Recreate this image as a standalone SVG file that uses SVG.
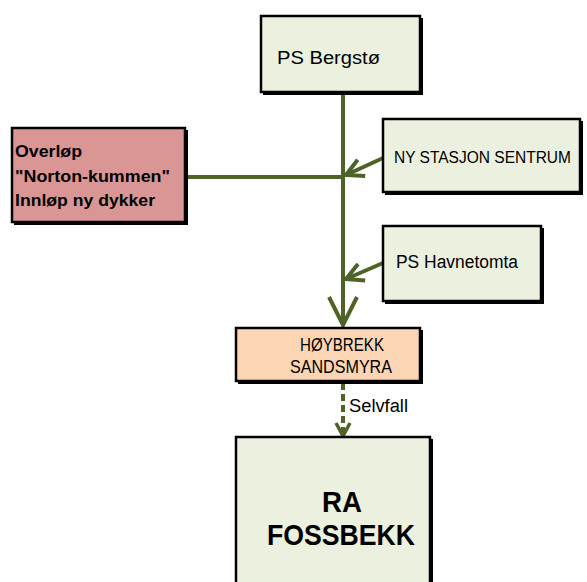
<svg xmlns="http://www.w3.org/2000/svg" width="587" height="582" viewBox="0 0 587 582">
<defs>
<style>
.box{stroke:#000;stroke-width:2.5}
.sh{fill:#000}
.g{fill:#ebf1de}
.r{fill:#d99694}
.o{fill:#fcd5b5}
.t{font-family:"Liberation Sans",Arial,sans-serif;font-size:18px;fill:#000}
.ts{font-family:"Liberation Sans",Arial,sans-serif;font-size:16px;fill:#000}
.tb{font-family:"Liberation Sans",Arial,sans-serif;font-size:16px;font-weight:bold;fill:#000}
.big{font-family:"Liberation Sans",Arial,sans-serif;font-size:30px;font-weight:bold;fill:#000}
.c{fill:none;stroke:#4f6228;stroke-width:4}
</style>
<marker id="big" markerUnits="userSpaceOnUse" viewBox="0 0 34 34" markerWidth="34" markerHeight="34" refX="30" refY="17" orient="auto">
<polyline points="2,3 30,17 2,31" fill="none" stroke="#4f6228" stroke-width="4"/>
</marker>
<marker id="sm" markerUnits="userSpaceOnUse" viewBox="0 0 24 24" markerWidth="24" markerHeight="24" refX="20" refY="12" orient="auto">
<polyline points="3,3 20,12 3,21" fill="none" stroke="#4f6228" stroke-width="4"/>
</marker>
<marker id="dsh" markerUnits="userSpaceOnUse" viewBox="0 0 20 20" markerWidth="20" markerHeight="20" refX="16" refY="10" orient="auto">
<polyline points="3,3 16,10 3,17" fill="none" stroke="#4f6228" stroke-width="3.5"/>
</marker>
</defs>
<rect width="587" height="582" fill="#fff"/>
<g id="connectors">
<line class="c" x1="186" y1="177" x2="343" y2="177"/>
<line class="c" x1="343" y1="94" x2="343" y2="325" marker-end="url(#big)"/>
<line class="c" x1="383" y1="158" x2="346" y2="175" marker-end="url(#sm)"/>
<line class="c" x1="383" y1="263" x2="346" y2="279" marker-end="url(#sm)"/>
<line class="c" x1="343" y1="383" x2="343" y2="436" stroke-dasharray="7,4" marker-end="url(#dsh)"/>
<text class="t" x="349" y="412" textLength="59" lengthAdjust="spacingAndGlyphs">Selvfall</text>
</g>
<g id="ps-bergsto">
<rect class="sh" x="263" y="18" width="160" height="77"/>
<rect class="box g" x="261" y="16" width="159" height="76"/>
<text class="t" x="277" y="64" textLength="103" lengthAdjust="spacingAndGlyphs">PS Bergstø</text>
</g>
<g id="overlop">
<rect class="sh" x="14" y="130" width="174" height="95"/>
<rect class="box r" x="12" y="128" width="173" height="94"/>
<text class="tb" x="15" y="157" textLength="67" lengthAdjust="spacingAndGlyphs">Overløp</text>
<text class="tb" x="15" y="182" textLength="155" lengthAdjust="spacingAndGlyphs">"Norton-kummen"</text>
<text class="tb" x="15" y="206" textLength="140" lengthAdjust="spacingAndGlyphs">Innløp ny dykker</text>
</g>
<g id="ny-stasjon">
<rect class="sh" x="385" y="121" width="198" height="74"/>
<rect class="box g" x="383" y="119" width="197" height="73"/>
<text class="ts" x="394" y="163" textLength="177" lengthAdjust="spacingAndGlyphs">NY STASJON SENTRUM</text>
</g>
<g id="ps-havnetomta">
<rect class="sh" x="385" y="228" width="159" height="76"/>
<rect class="box g" x="383" y="226" width="158" height="75"/>
<text class="t" x="396" y="268" textLength="122" lengthAdjust="spacingAndGlyphs">PS Havnetomta</text>
</g>
<g id="hoybrekk">
<rect class="sh" x="238" y="330" width="185" height="54"/>
<rect class="box o" x="236" y="328" width="184" height="53"/>
<text class="t" x="300" y="351" textLength="84" lengthAdjust="spacingAndGlyphs">HØYBREKK</text>
<text class="t" x="290" y="373" textLength="102" lengthAdjust="spacingAndGlyphs">SANDSMYRA</text>
</g>
<g id="ra-fossbekk">
<rect class="sh" x="238" y="439" width="195" height="150"/>
<rect class="box g" x="236" y="437" width="194" height="150"/>
<text class="big" x="322" y="512" textLength="40" lengthAdjust="spacingAndGlyphs">RA</text>
<text class="big" x="267" y="545" textLength="148" lengthAdjust="spacingAndGlyphs">FOSSBEKK</text>
</g>
</svg>
